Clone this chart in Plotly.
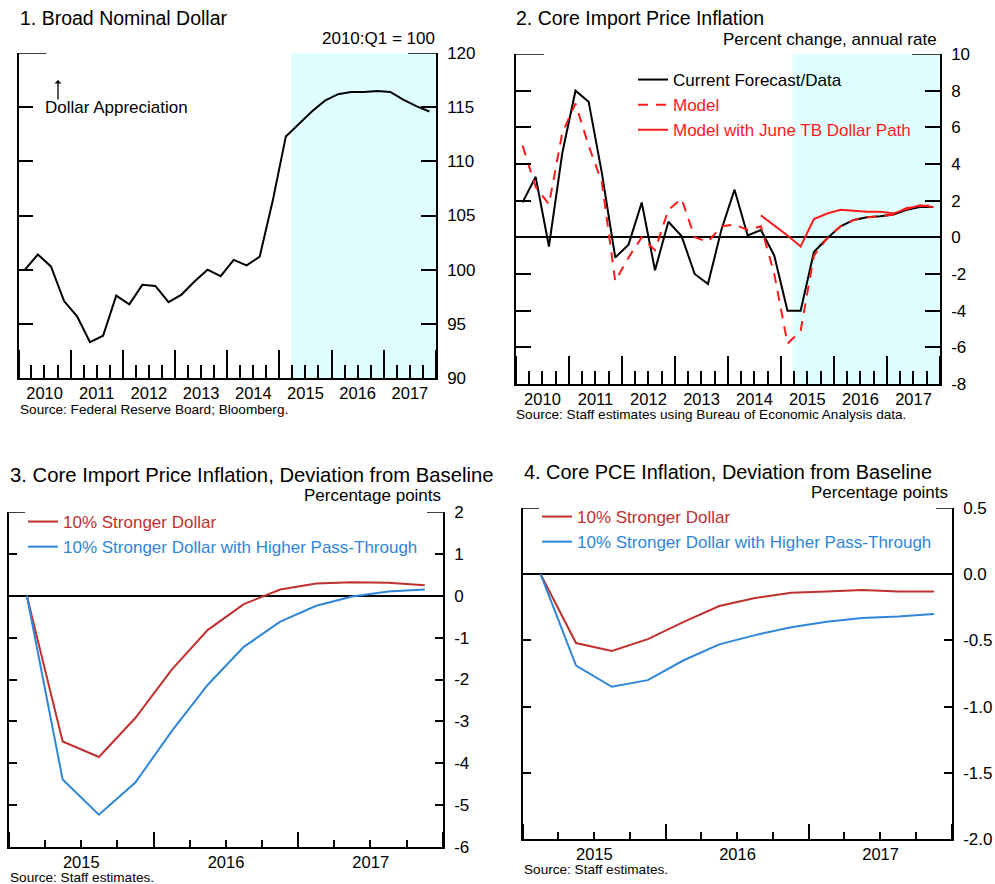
import plotly.graph_objects as go
import pandas as pd

W, H = 995, 884
FONT = "Arial, 'Liberation Sans', sans-serif"

# ---------------- data ----------------
p12_quarters = pd.period_range("2010Q1", "2017Q4", freq="Q")
p34_quarters = pd.period_range("2015Q1", "2017Q4", freq="Q")

broad_dollar = [100.0, 101.4, 100.3, 97.1, 95.7, 93.3, 93.9, 97.6, 96.8, 98.6, 98.5, 97.0,
                97.7, 98.9, 100.0, 99.4, 100.9, 100.4, 101.2, 106.4, 112.3, 113.4, 114.6, 115.6,
                116.2, 116.4, 116.4, 116.5, 116.4, 115.7, 115.1, 114.6]

import_current = [1.9, 3.3, -0.5, 4.6, 8.0, 7.4, 3.5, -1.1, -0.4, 1.9, -1.8, 0.85,
                  0.07, -2.0, -2.55, 0.4, 2.6, 0.1, 0.4, -1.0, -4.0, -4.0, -0.8, -0.05,
                  0.6, 0.95, 1.1, 1.15, 1.25, 1.5, 1.65, 1.65]
import_model = [5.0, 2.75, 1.8, 5.7, 7.3, 5.0, 3.0, -2.4, -1.1, 0.0, -0.7, 1.5,
                2.1, 0.0, -0.25, 0.6, 0.7, 0.4, 0.6, -2.0, -5.8, -5.1, -1.0, -0.05,
                0.6, 0.95, 1.1, 1.15, 1.25, 1.6, 1.7, 1.75]
import_june_tb = [None] * 18 + [1.2, 0.65, 0.1, -0.5, 1.0, 1.3, 1.5, 1.45, 1.4, 1.4, 1.3, 1.55, 1.75, 1.65]

p3_stronger = [0.0, -3.48, -3.85, -2.92, -1.77, -0.82, -0.2, 0.15, 0.29, 0.32, 0.31, 0.25]
p3_passthrough = [0.0, -4.39, -5.23, -4.46, -3.24, -2.13, -1.22, -0.62, -0.24, -0.02, 0.1, 0.15]

p4_stronger = [0.0, -0.52, -0.58, -0.49, -0.36, -0.24, -0.18, -0.14, -0.13, -0.12, -0.13, -0.13]
p4_passthrough = [0.0, -0.69, -0.85, -0.80, -0.65, -0.53, -0.46, -0.40, -0.36, -0.33, -0.32, -0.30]

p1_ticks = [90, 95, 100, 105, 110, 115, 120]
p1_ticktext = ["90", "95", "100", "105", "110", "115", "120"]
p2_ticks = [-8, -6, -4, -2, 0, 2, 4, 6, 8, 10]
p2_ticktext = ["-8", "-6", "-4", "-2", "0", "2", "4", "6", "8", "10"]
p3_ticks = [-6, -5, -4, -3, -2, -1, 0, 1, 2]
p3_ticktext = ["-6", "-5", "-4", "-3", "-2", "-1", "0", "1", "2"]
p4_ticks = [-2.0, -1.5, -1.0, -0.5, 0.0, 0.5]
p4_ticktext = ["-2.0", "-1.5", "-1.0", "-0.5", "0.0", "0.5"]

forecast_start = "2015-03-23"

RED = "#C0302F"
BLUE = "#2F86D8"
MODEL_RED = "#FF1A1A"
SHADE = "#DFFFFF"


def mid(periods):
    return [p.start_time + (p.end_time - p.start_time) / 2 for p in periods]


x12 = mid(p12_quarters)
x34 = mid(p34_quarters)


def px(x):
    return x / W


def py(y):
    return 1 - y / H


def color_name(text, color):
    return f'<span style="color:{color}">{text}</span>'


fig = go.Figure()

# Panel 1
fig.add_trace(go.Scatter(x=x12, y=broad_dollar, mode="lines", line=dict(color="black", width=2),
                         showlegend=False, xaxis="x", yaxis="y"))
# Panel 2
fig.add_trace(go.Scatter(x=x12, y=import_current, mode="lines", line=dict(color="black", width=2),
                         name=color_name("Current Forecast/Data", "black"), legend="legend",
                         xaxis="x2", yaxis="y2"))
fig.add_trace(go.Scatter(x=x12, y=import_model, mode="lines",
                         line=dict(color=MODEL_RED, width=2, dash="10px,8px"),
                         name=color_name("Model", MODEL_RED), legend="legend",
                         xaxis="x2", yaxis="y2"))
fig.add_trace(go.Scatter(x=x12, y=import_june_tb, mode="lines", line=dict(color=MODEL_RED, width=2),
                         name=color_name("Model with June TB Dollar Path", MODEL_RED), legend="legend",
                         xaxis="x2", yaxis="y2"))
# Panel 3
fig.add_trace(go.Scatter(x=x34, y=p3_stronger, mode="lines", line=dict(color=RED, width=2),
                         name=color_name("10% Stronger Dollar", RED), legend="legend2",
                         xaxis="x3", yaxis="y3"))
fig.add_trace(go.Scatter(x=x34, y=p3_passthrough, mode="lines", line=dict(color=BLUE, width=2),
                         name=color_name("10% Stronger Dollar with Higher Pass-Through", BLUE),
                         legend="legend2", xaxis="x3", yaxis="y3"))
# Panel 4
fig.add_trace(go.Scatter(x=x34, y=p4_stronger, mode="lines", line=dict(color=RED, width=2),
                         name=color_name("10% Stronger Dollar", RED), legend="legend3",
                         xaxis="x4", yaxis="y4"))
fig.add_trace(go.Scatter(x=x34, y=p4_passthrough, mode="lines", line=dict(color=BLUE, width=2),
                         name=color_name("10% Stronger Dollar with Higher Pass-Through", BLUE),
                         legend="legend3", xaxis="x4", yaxis="y4"))


def xaxis_cfg(domain, anchor, start, end, major_len, minor_len, standoff):
    return dict(domain=domain, anchor=anchor, type="date", range=[start, end],
                tick0=start, dtick="M12", ticklabelmode="period", tickformat="%Y",
                ticks="inside", ticklen=major_len, tickwidth=1.5, tickcolor="black",
                showline=True, linecolor="black", linewidth=1.5, showgrid=False, zeroline=False,
                tickfont=dict(size=16.5, color="black", family=FONT), ticklabelstandoff=standoff,
                minor=dict(dtick="M3", tick0=start, ticks="inside", ticklen=minor_len,
                           tickwidth=1.5, tickcolor="black", showgrid=False),
                automargin=False, fixedrange=True)


def yaxis_cfg(domain, anchor, rng, vals, text, ticklen, zero):
    return dict(domain=domain, anchor=anchor, side="right", range=rng, tickmode="array",
                tickvals=vals, ticktext=text, ticks="inside", ticklen=ticklen, tickwidth=1.5,
                tickcolor="black", showline=True, mirror="ticks", linecolor="black", linewidth=1.5,
                showgrid=False, zeroline=zero, zerolinecolor="black", zerolinewidth=1.5,
                tickfont=dict(size=17, color="black", family=FONT), ticklabelstandoff=6,
                automargin=False, fixedrange=True)


d1x = [px(18.5), px(436)]
d1y = [py(378), py(53)]
d2x = [px(516), px(940)]
d2y = [py(384), py(54)]
d3x = [px(9), px(443)]
d3y = [py(847), py(512)]
d4x = [px(523), px(952)]
d4y = [py(839), py(508)]

fig.update_layout(
    width=W, height=H, autosize=False,
    margin=dict(l=0, r=0, t=0, b=0, pad=0, autoexpand=False),
    paper_bgcolor="white", plot_bgcolor="rgba(0,0,0,0)",
    font=dict(family=FONT, size=17, color="black"),
    xaxis=xaxis_cfg(d1x, "y", "2010-01-01", "2018-01-01", 28, 13, -1),
    yaxis=yaxis_cfg(d1y, "x", [90, 120], p1_ticks, p1_ticktext, 15, False),
    xaxis2=xaxis_cfg(d2x, "y2", "2010-01-01", "2018-01-01", 28, 13, -1),
    yaxis2=yaxis_cfg(d2y, "x2", [-8, 10], p2_ticks, p2_ticktext, 15, True),
    xaxis3=xaxis_cfg(d3x, "y3", "2015-01-01", "2018-01-01", 15, 7, -1),
    yaxis3=yaxis_cfg(d3y, "x3", [-6, 2], p3_ticks, p3_ticktext, 8, True),
    xaxis4=xaxis_cfg(d4x, "y4", "2015-01-01", "2018-01-01", 15, 7, -1),
    yaxis4=yaxis_cfg(d4y, "x4", [-2.0, 0.5], p4_ticks, p4_ticktext, 8, True),
    legend=dict(x=px(633), y=py(62), xanchor="left", yanchor="top", bgcolor="rgba(0,0,0,0)",
                font=dict(size=17, family=FONT), tracegroupgap=0, borderwidth=0),
    legend2=dict(x=px(23), y=py(504), xanchor="left", yanchor="top", bgcolor="rgba(0,0,0,0)",
                 font=dict(size=17, family=FONT), borderwidth=0),
    legend3=dict(x=px(537), y=py(499), xanchor="left", yanchor="top", bgcolor="rgba(0,0,0,0)",
                 font=dict(size=17, family=FONT), borderwidth=0),
    showlegend=True,
)

# forecast shading
for xa, ya in [("x", "y"), ("x2", "y2")]:
    fig.add_shape(type="rect", xref=xa, yref=f"{ya} domain", x0=forecast_start, x1="2018-01-01",
                  y0=0, y1=1, fillcolor=SHADE, line=dict(width=0), layer="below")

# longer top ticks
top_specs = [("x", "y", 120, 28 / 418), ("x2", "y2", 10, 28 / 424),
             ("x3", "y3", 2, 16 / 434), ("x4", "y4", 0.5, 16 / 429)]
for xa, ya, top, frac in top_specs:
    fig.add_shape(type="line", xref=f"{xa} domain", yref=ya, x0=0, x1=frac, y0=top, y1=top,
                  line=dict(color="black", width=1.5))
    fig.add_shape(type="line", xref=f"{xa} domain", yref=ya, x0=1 - frac, x1=1, y0=top, y1=top,
                  line=dict(color="black", width=1.5))


def text(x, y, s, size, anchor="left", color="black"):
    fig.add_annotation(x=px(x), y=py(y), xref="paper", yref="paper", text=s, showarrow=False,
                       xanchor=anchor, yanchor="middle", font=dict(size=size, color=color, family=FONT),
                       borderpad=0)


text(19, 18, "1. Broad Nominal Dollar", 19.5)
text(436, 39, "2010:Q1 = 100", 17, "right")
text(515, 18, "2. Core Import Price Inflation", 19.5)
text(938, 40, "Percent change, annual rate", 17, "right")
text(9, 475, "3. Core Import Price Inflation, Deviation from Baseline", 20.3)
text(442, 495, "Percentage points", 17, "right")
text(523, 472, "4. Core PCE Inflation, Deviation from Baseline", 19.9)
text(949, 492, "Percentage points", 17, "right")

text(19, 409, "Source: Federal Reserve Board; Bloomberg.", 13.6)
text(515, 414, "Source: Staff estimates using Bureau of Economic Analysis data.", 13.6)
text(9, 877, "Source: Staff estimates.", 13.6)
text(523, 869, "Source: Staff estimates.", 13.6)

# Dollar appreciation note
text(44, 107, "Dollar Appreciation", 17)
fig.add_annotation(x=px(58), y=py(80), xref="paper", yref="paper", text=" ", showarrow=True,
                   ax=0, ay=24, arrowhead=1, arrowsize=0.9, arrowwidth=1.3, arrowcolor="black",
                   font=dict(size=6))

fig.write_html("out.html", config={"displayModeBar": False})

# remove the default page margin so the figure sits at the window origin
with open("out.html", encoding="utf-8") as f:
    html = f.read()
html = html.replace("<head>", "<head><style>html,body{margin:0;padding:0;overflow:hidden;}</style>", 1)
with open("out.html", "w", encoding="utf-8") as f:
    f.write(html)
